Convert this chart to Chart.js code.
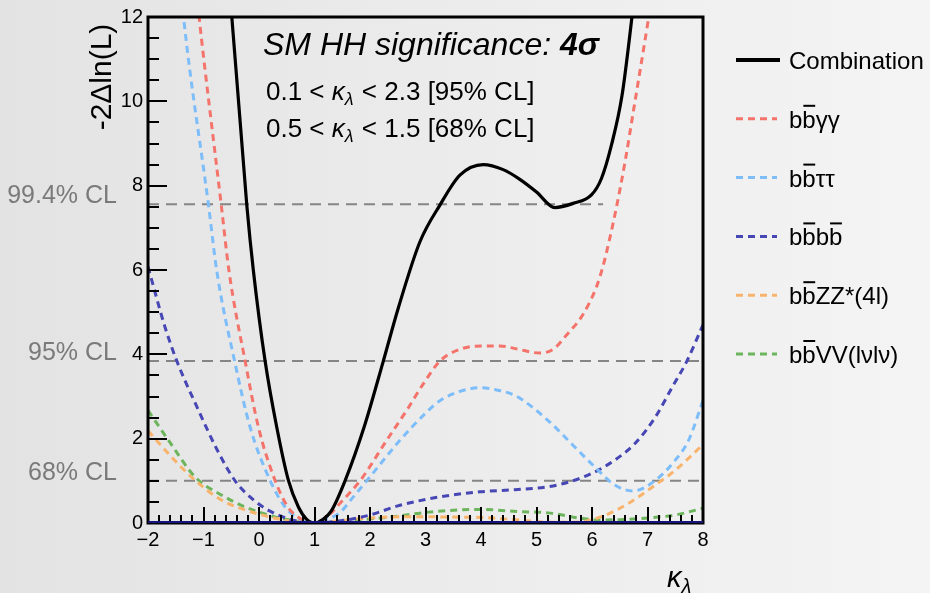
<!DOCTYPE html>
<html>
<head>
<meta charset="utf-8">
<title>kappa lambda likelihood scan</title>
<script src="https://cdn.jsdelivr.net/npm/chart.js@4.4.1/dist/chart.umd.min.js"></script>
<style>
  html, body { margin: 0; padding: 0; }
  body {
    width: 930px; height: 593px; overflow: hidden;
    background: linear-gradient(90deg, #e3e3e3 0%, #ebebeb 45%, #f4f4f4 100%);
  }
  canvas { display: block; }
</style>
</head>
<body>
<canvas id="graficKl" width="930" height="593"></canvas>
<script>
// kappa_lambda scan, -2 delta ln L per channel
const kComb = [-0.56, -0.49, -0.22, -0.10, 0.11, 0.32, 0.53, 0.71, 0.85, 1.0, 1.15, 1.3, 1.55, 1.9, 2.24, 2.51, 2.9, 3.26, 3.62, 4.04, 4.4, 4.7, 5.0, 5.33, 5.66, 5.99, 6.17, 6.35, 6.54, 6.72, 6.78]
const vComb = [13.4, 12.0, 7.54, 5.97, 3.84, 2.27, 1.01, 0.38, 0.10, 0.0, 0.08, 0.28, 1.0, 2.3, 3.84, 5.1, 6.67, 7.54, 8.25, 8.5, 8.38, 8.15, 7.85, 7.48, 7.58, 7.78, 8.17, 8.96, 10.13, 12.0, 12.7]

const kGG = [-1.15, -1.08, -0.68, -0.54, -0.25, -0.01, 0.29, 0.52, 0.75, 0.95, 1.2, 1.46, 1.82, 2.3, 2.66, 2.96, 3.26, 3.62, 4.04, 4.34, 4.64, 5.06, 5.3, 5.55, 5.84, 6.08, 6.2, 6.32, 6.45, 6.6, 6.75, 6.9, 7.05, 7.15]
const vGG = [12.9, 12.0, 7.54, 5.97, 3.84, 2.27, 1.01, 0.38, 0.1, 0.0, 0.12, 0.47, 1.0, 1.96, 2.67, 3.3, 3.84, 4.12, 4.2, 4.2, 4.13, 4.03, 4.12, 4.47, 4.95, 5.6, 6.1, 6.75, 7.55, 8.6, 9.8, 11.0, 12.2, 12.9]

const kTT = [-1.45, -1.36, -0.91, -0.76, -0.44, -0.16, 0.20, 0.47, 0.75, 0.95, 1.2, 1.46, 1.7, 1.94, 2.54, 3.02, 3.26, 3.62, 4.0, 4.3, 4.62, 5.21, 5.63, 6.05, 6.41, 6.74, 7.14, 7.5, 7.74, 8.0]
const vTT = [13.3, 12.0, 7.54, 5.97, 3.84, 2.27, 1.01, 0.38, 0.08, 0.0, 0.08, 0.25, 0.62, 1.0, 1.96, 2.63, 2.9, 3.12, 3.21, 3.15, 3.02, 2.43, 1.88, 1.33, 0.9, 0.76, 1.01, 1.49, 1.96, 2.9]

const kBB4 = [-2.0, -1.69, -1.48, -1.1, -0.76, -0.43, -0.1, 0.2, 0.6, 1.0, 1.4, 1.7, 2.0, 2.54, 3.26, 3.98, 4.61, 5.21, 5.63, 6.05, 6.41, 6.77, 7.14, 7.44, 7.71, 8.0]
const vBB4 = [6.08, 4.63, 3.84, 2.7, 1.75, 1.0, 0.55, 0.28, 0.07, 0.0, 0.04, 0.1, 0.19, 0.42, 0.62, 0.74, 0.79, 0.86, 0.99, 1.21, 1.49, 1.88, 2.51, 3.21, 3.84, 4.7]

const kZZ = [-2.0, -1.63, -1.15, -0.67, -0.25, 0.17, 0.6, 1.0, 1.5, 2.0, 2.78, 3.5, 4.0, 4.7, 5.2, 5.7, 6.17, 6.65, 7.14, 7.5, 8.0]
const vZZ = [2.19, 1.64, 1.01, 0.54, 0.31, 0.15, 0.04, 0.0, 0.06, 0.12, 0.15, 0.14, 0.13, 0.07, 0.02, 0.02, 0.15, 0.46, 0.9, 1.25, 1.86]

const kVV = [-2.0, -1.63, -1.15, -0.67, -0.25, 0.17, 0.6, 1.0, 1.5, 2.12, 2.54, 3.0, 3.62, 4.0, 4.7, 5.21, 5.81, 6.1, 6.5, 7.0, 7.5, 8.0]
const vVV = [2.67, 1.96, 1.09, 0.66, 0.38, 0.19, 0.06, 0.0, 0.05, 0.11, 0.17, 0.25, 0.31, 0.32, 0.27, 0.24, 0.11, 0.07, 0.08, 0.12, 0.19, 0.35]

// confidence level lines
const clValues = [1.0, 3.84, 7.56]
const clLabels = ['68% CL', '95% CL', '99.4% CL']
const clEnds = [8, 8, 6.2]

const xTicks = [-2, -1, 0, 1, 2, 3, 4, 5, 6, 7, 8]
const yTicks = [0, 2, 4, 6, 8, 10, 12]

const sigText = 'SM HH significance: '
const sigValue = '4σ'
const rangeLines = [['0.1 < ', ' < 2.3 [95% CL]'], ['0.5 < ', ' < 1.5 [68% CL]']]

const FONT = '"Liberation Sans", Arial, Helvetica, sans-serif'
Chart.defaults.font.family = FONT

function pts(ks, vs) {
    return ks.map((k, i) => ({ x: k, y: vs[i] }))
}

function curve(label, ks, vs, color, dashed) {
    return {
        label: label,
        data: pts(ks, vs),
        borderColor: color,
        borderWidth: dashed ? 3 : 3.2,
        borderDash: dashed ? [7, 5] : [],
        pointRadius: 0,
        cubicInterpolationMode: 'monotone',
        fill: false
    }
}

let datasets = [
    curve('Combination', kComb, vComb, '#000000', false),
    curve('bb\u0305γγ', kGG, vGG, '#f4736b', true),
    curve('bb\u0305ττ', kTT, vTT, '#7dbdf9', true),
    curve('bb\u0305bb\u0305', kBB4, vBB4, '#4646b4', true),
    curve('bb\u0305ZZ*(4l)', kZZ, vZZ, '#f8b46c', true),
    curve('bb\u0305VV(lνlν)', kVV, vVV, '#6db55c', true)
]

clValues.forEach((v, i) => {
    datasets.push({
        label: clLabels[i],
        cl: true,
        data: [{ x: -2, y: v }, { x: clEnds[i], y: v }],
        borderColor: '#858585',
        borderWidth: 2,
        borderDash: [11, 7],
        pointRadius: 0,
        fill: false
    })
})

// draws text, putting an overline on every char followed by U+0305
function drawBarText(ctx, txt, x, y) {
    let chars = Array.from(txt)
    for (let i = 0; i < chars.length; i++) {
        let c = chars[i]
        if (c === '\u0305') continue
        let w = ctx.measureText(c).width
        ctx.fillText(c, x, y)
        if (chars[i + 1] === '\u0305') ctx.fillRect(x + 1, y - 23, w - 1.5, 2)
        x += w
    }
}

function drawKappa(ctx, x, y, size) {
    ctx.font = 'italic ' + size + 'px ' + FONT
    ctx.fillText('κ', x, y)
    x += ctx.measureText('κ').width
    ctx.font = 'italic ' + Math.round(size * 0.68) + 'px ' + FONT
    ctx.fillText('λ', x, y + size * 0.2)
    return x + ctx.measureText('λ').width
}

const decor = {
    id: 'decor',
    beforeDatasetsDraw(chart) {
        const { ctx, scales: { y } } = chart
        ctx.save()
        ctx.fillStyle = '#7a7a7a'
        ctx.font = '25px ' + FONT
        ctx.textAlign = 'right'
        ctx.textBaseline = 'middle'
        clValues.forEach((v, i) => ctx.fillText(clLabels[i], 117, y.getPixelForValue(v) - 8))
        ctx.restore()
    },
    afterDatasetsDraw(chart) {
        const { ctx, chartArea: a, scales: { x, y } } = chart
        ctx.save()
        ctx.strokeStyle = '#000'
        ctx.lineWidth = 2
        ctx.beginPath()
        // inner ticks, y every 0.5, x every 0.2
        for (let i = 0; i <= 24; i++) {
            let py = Math.round(y.getPixelForValue(i / 2))
            ctx.moveTo(a.left, py)
            ctx.lineTo(a.left + (i % 4 === 0 ? 19 : 11), py)
        }
        for (let i = 0; i <= 50; i++) {
            let px = Math.round(x.getPixelForValue(-2 + i / 5))
            ctx.moveTo(px, a.bottom)
            ctx.lineTo(px, a.bottom - (i % 5 === 0 ? 16 : 8))
        }
        ctx.stroke()
        ctx.lineWidth = 3
        ctx.strokeRect(a.left, a.top, a.right - a.left, a.bottom - a.top)
        ctx.strokeStyle = '#14147a'
        ctx.lineWidth = 2
        ctx.beginPath()
        ctx.moveTo(a.left, a.bottom - 1)
        ctx.lineTo(a.right, a.bottom - 1)
        ctx.stroke()
        ctx.restore()
    },
    afterDraw(chart) {
        const { ctx } = chart
        ctx.save()
        ctx.fillStyle = '#000'
        ctx.textBaseline = 'alphabetic'

        // axis titles
        ctx.save()
        ctx.translate(111, 77)
        ctx.rotate(-Math.PI / 2)
        ctx.textAlign = 'center'
        ctx.font = '30px ' + FONT
        ctx.fillText('-2Δln(L)', 0, 0)
        ctx.restore()
        drawKappa(ctx, 667, 587, 29)

        // significance box text
        ctx.font = 'italic 32px ' + FONT
        ctx.fillText(sigText, 263, 55)
        let w = ctx.measureText(sigText).width
        ctx.font = 'italic bold 32px ' + FONT
        ctx.fillText(sigValue, 263 + w, 55)

        rangeLines.forEach((parts, i) => {
            let by = 100 + i * 37
            ctx.font = '26px ' + FONT
            ctx.fillText(parts[0], 266, by)
            let xx = 266 + ctx.measureText(parts[0]).width
            xx = drawKappa(ctx, xx, by, 26)
            ctx.font = '26px ' + FONT
            ctx.fillText(parts[1], xx + 1, by)
        })

        // legend
        let items = chart.data.datasets.filter(d => !d.cl)
        items.forEach((d, i) => {
            let cy = 60 + i * 58.8
            ctx.strokeStyle = d.borderColor
            ctx.lineWidth = d.borderDash.length ? 3 : 4
            ctx.setLineDash(d.borderDash.length ? [7, 5] : [])
            ctx.beginPath()
            ctx.moveTo(736, cy)
            ctx.lineTo(d.borderDash.length ? 777 : 780, cy)
            ctx.stroke()
            ctx.setLineDash([])
            ctx.font = '24px ' + FONT
            ctx.fillStyle = '#000'
            drawBarText(ctx, d.label, 789, cy + 9)
        })
        ctx.restore()
    }
}

const graficKl = document.getElementById('graficKl')

window.graficoKl = new Chart(graficKl, {
    type: 'line',
    data: { datasets: datasets },
    options: {
        responsive: false,
        animation: false,
        events: [],
        layout: { padding: { left: 88, right: 227, top: 14, bottom: 30 } },
        plugins: { legend: { display: false }, tooltip: { enabled: false } },
        scales: {
            x: {
                type: 'linear',
                min: -2,
                max: 8,
                grid: { display: false, drawTicks: false },
                border: { display: false },
                afterBuildTicks: s => { s.ticks = xTicks.map(v => ({ value: v })) },
                afterFit: s => { s.height = 40 },
                ticks: {
                    color: '#000',
                    font: { size: 20 },
                    padding: 5,
                    maxRotation: 0,
                    autoSkip: false,
                    callback: v => String(v).replace('-', '\u2212')
                }
            },
            y: {
                type: 'linear',
                min: 0,
                max: 12,
                grid: { display: false, drawTicks: false },
                border: { display: false },
                afterBuildTicks: s => { s.ticks = yTicks.map(v => ({ value: v })) },
                afterFit: s => { s.width = 60 },
                ticks: { color: '#000', font: { size: 20 }, padding: 5 }
            }
        }
    },
    plugins: [decor]
})
</script>
</body>
</html>
